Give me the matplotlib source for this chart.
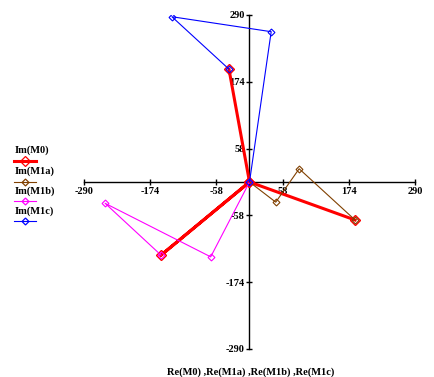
import matplotlib
matplotlib.use("Agg")
import matplotlib.pyplot as plt
from matplotlib.lines import Line2D

# Data (phasor end points)
m0_re = [-36, 0, -155, 0, 185]
m0_im = [196, 0, -127, 0, -66]
m1a_re = [0, 46, 87, 185]
m1a_im = [0, -35, 23, -66]
m1b_re = [0, -68, -253, -155]
m1b_im = [0, -130, -37, -127]
m1c_re = [0, 38, -136, -36]
m1c_im = [0, 261, 287, 196]

tick_vals = [-290, -174, -58, 58, 174, 290]
series_names = ["Im(M0)", "Im(M1a)", "Im(M1b)", "Im(M1c)"]
colors = ["#ff0000", "#804000", "#ff00ff", "#0000ff"]
xlabel = "Re(M0) ,Re(M1a) ,Re(M1b) ,Re(M1c)"

font = {"family": "Liberation Serif", "weight": "bold"}

W, H = 435, 377
fig = plt.figure(figsize=(W / 100, H / 100), dpi=100)
ax = fig.add_axes([84 / W, 28 / H, 331 / W, 334 / H])
ax.set_xlim(-290, 290)
ax.set_ylim(-290, 290)

ax.plot(m0_re, m0_im, color=colors[0], lw=2.2, marker="D", ms=5,
        mfc="none", mec=colors[0], mew=1.0, zorder=3)
for xs, ys, c in [(m1a_re, m1a_im, colors[1]), (m1b_re, m1b_im, colors[2]),
                  (m1c_re, m1c_im, colors[3])]:
    ax.plot(xs, ys, color=c, lw=0.8, marker="D", ms=3.5, mfc="none",
            mec=c, mew=0.8, zorder=4)

for s in ["top", "right"]:
    ax.spines[s].set_visible(False)
ax.spines["left"].set_position(("data", 0))
ax.spines["bottom"].set_position(("data", 0))
for s in ["left", "bottom"]:
    ax.spines[s].set_linewidth(1.0)
    ax.spines[s].set_zorder(2)

ax.set_xticks(tick_vals)
ax.set_yticks(tick_vals)
ax.set_xticklabels([str(v) for v in tick_vals], fontdict=font, fontsize=7.5)
ax.set_yticklabels([str(v) for v in tick_vals], fontdict=font, fontsize=7.5)
ax.tick_params(direction="inout", length=5, width=1, pad=1)
ax.patch.set_visible(False)

fig.text(251 / W, 1 - 372 / H, xlabel, ha="center", va="center",
         fontdict=font, fontsize=7.5)

# Legend (label above line sample)
text_y = [150, 171, 191, 211]
line_y = [161, 182, 201, 221]
for name, c, ty, ly, i in zip(series_names, colors, text_y, line_y, range(4)):
    fig.text(15 / W, 1 - ty / H, name, ha="left", va="center",
             fontdict=font, fontsize=7.5)
    lw = 2.2 if i == 0 else 0.8
    ms = 5 if i == 0 else 3.5
    fig.add_artist(Line2D([14 / W, 36 / W], [1 - ly / H, 1 - ly / H],
                          transform=fig.transFigure, color=c, lw=lw))
    fig.add_artist(Line2D([25 / W], [1 - ly / H], transform=fig.transFigure,
                          color=c, marker="D", ms=ms, mfc="none", mec=c,
                          mew=0.9, lw=0))

fig.savefig("out.png", dpi=100)
